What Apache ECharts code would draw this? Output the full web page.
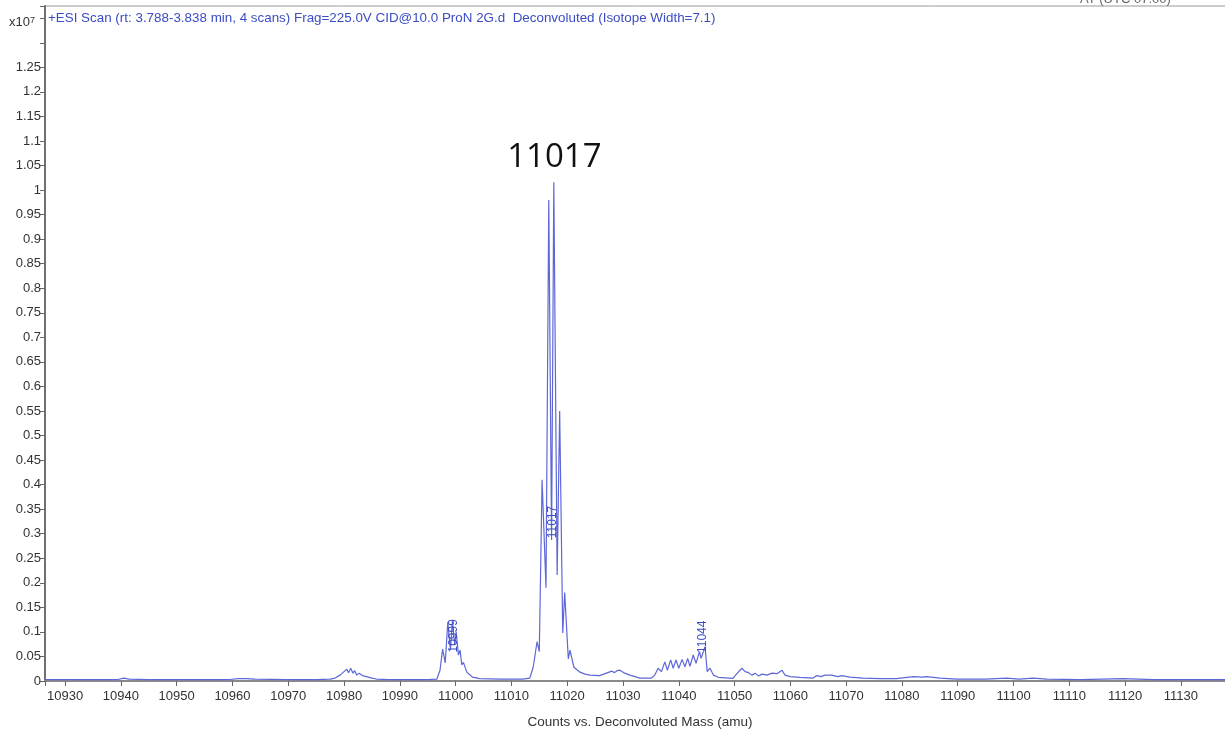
<!DOCTYPE html>
<html>
<head>
<meta charset="utf-8">
<script src="https://cdn.jsdelivr.net/npm/echarts@6/dist/echarts.min.js"></script>
<style>
html,body{margin:0;padding:0;background:#fff;overflow:hidden;}
#chart{width:1225px;height:734px;}
</style>
</head>
<body>
<div id="chart"></div>
<script>
// Deconvoluted mass (amu)
var masses = [
10926.4,10935,10939.5,10940.5,10941.5,10945,10950,10955,10959.5,10961,10962.5,10964,10970,10975,
10977.5,10978.4,10979.3,10980,10980.5,10980.8,10981.2,10981.6,10981.9,10982.3,10982.7,10983.3,10984.0,10985,10985.8,
10988,10992,10995,10996.65,10997.2,10997.67,10998.14,10998.6,10999.07,10999.43,10999.85,11000.1,11000.5,11000.8,
11001.1,11001.4,11002.0,11003.0,11004.3,11008,11012,11013.3,11013.9,11014.6,11015.0,11015.5,11016.2,11016.7,
11017.2,11017.6,11018.2,11018.65,11019.2,11019.55,11020.2,11020.5,11021.2,11022.3,11023.2,11024.1,11025.8,11026.8,
11028.0,11028.5,11028.9,11029.46,11030.3,11031.25,11033.05,11035.1,11035.7,11036.3,11036.9,11037.5,11037.95,11038.55,
11039.0,11039.5,11040.0,11040.6,11041.1,11041.6,11042.0,11042.6,11043.1,11043.7,11044.0,11044.7,11045.1,11045.6,
11046.2,11047.1,11049.7,11050.5,11051.3,11051.9,11052.5,11053.1,11053.7,11054.3,11054.9,11055.8,11056.7,11057.6,
11058.5,11059.05,11059.95,11061.7,11064.1,11064.7,11065.5,11066.2,11067.4,11068.5,11069.2,11070.7,11073,11076.1,
11079,11082.1,11083.5,11084.45,11086.8,11089.8,11095,11098.8,11101,11103.5,11106,11112,11119.7,11125,11132,11139.7
];
// Counts (x10^7)
var counts = [
0.003,0.003,0.003,0.006,0.004,0.003,0.003,0.003,0.003,0.005,0.005,0.004,0.003,0.003,
0.004,0.006,0.012,0.019,0.024,0.017,0.026,0.016,0.021,0.012,0.016,0.011,0.009,0.006,0.004,
0.003,0.003,0.003,0.004,0.022,0.065,0.037,0.12,0.063,0.122,0.073,0.10,0.053,0.063,
0.033,0.038,0.018,0.008,0.005,0.004,0.004,0.006,0.028,0.08,0.06,0.41,0.19,0.98,
0.287,1.016,0.216,0.55,0.098,0.18,0.045,0.063,0.028,0.018,0.014,0.012,0.011,0.015,
0.02,0.017,0.021,0.022,0.016,0.012,0.006,0.006,0.012,0.026,0.019,0.039,0.022,0.043,
0.026,0.043,0.026,0.044,0.029,0.046,0.03,0.053,0.036,0.06,0.046,0.07,0.019,0.026,
0.012,0.0075,0.0055,0.016,0.026,0.019,0.017,0.012,0.016,0.01,0.014,0.012,0.016,0.015,
0.022,0.012,0.009,0.0075,0.006,0.011,0.009,0.012,0.012,0.009,0.011,0.008,0.006,0.005,
0.005,0.009,0.008,0.009,0.006,0.004,0.004,0.006,0.004,0.006,0.004,0.003,0.005,0.003,0.003,0.003
];
// Peak labels (rotated) : mass, label anchor height
var peakLabelMass = [10999.6, 11017.4, 11044.3];
var peakLabelY = [0.092, 0.324, 0.09];
var peakLabelText = ['10999', '11017', '11044'];
// Big annotation
var bigLabel = {mass: 11017.7, y: 1.066, text: '11017'};

var titleText = '+ESI Scan (rt: 3.788-3.838 min, 4 scans) Frag=225.0V CID@10.0 ProN 2G.d  Deconvoluted (Isotope Width=7.1)';
var xName = 'Counts vs. Deconvoluted Mass (amu)';

var seriesData = masses.map(function (m, i) { return [m, counts[i]]; });

var markData = peakLabelMass.map(function (m, i) {
  return {
    coord: [m, peakLabelY[i]],
    symbol: 'rect', symbolSize: 0,
    label: {show: true, position: 'inside', rotate: 90, formatter: peakLabelText[i],
      color: '#3b4cc6', fontSize: 12, fontFamily: 'Liberation Sans'}
  };
});
markData.push({
  coord: [bigLabel.mass, bigLabel.y],
  symbol: 'rect', symbolSize: 0,
  label: {show: true, position: 'inside', formatter: bigLabel.text,
    color: '#111', fontSize: 33, fontFamily: 'Open Sans'}
});

var chart = echarts.init(document.getElementById('chart'), null, {renderer: 'canvas'});
chart.setOption({
  animation: false,
  backgroundColor: '#fff',
  title: [
    {text: titleText, left: 48, top: 12, padding: 0,
      textStyle: {color: '#3b4cc6', fontSize: 13.4, fontWeight: 'normal', fontFamily: 'Liberation Sans'}},
    {text: 'x10{s|7}', left: 9, top: 16, padding: 0,
      textStyle: {color: '#333', fontSize: 13, fontWeight: 'normal', fontFamily: 'Liberation Sans',
        rich: {s: {fontSize: 9, verticalAlign: 'top', lineHeight: 9, padding: [0, 0, 7, 0], color: '#333', fontFamily: 'Liberation Sans'}}}},
    {text: 'AT (UTC 07:00)', left: 1080, top: -7, padding: 0,
      textStyle: {color: '#666', fontSize: 13, fontWeight: 'normal', fontFamily: 'Liberation Sans'}}
  ],
  grid: {left: 45, top: 6, width: 1190, bottom: 53, show: true, borderColor: '#999', borderWidth: 1,
    backgroundColor: 'transparent', containLabel: false, outerBoundsMode: 'none'},
  xAxis: {
    type: 'value', min: 10926.4, max: 11139.7, minInterval: 10, maxInterval: 10,
    name: xName, nameLocation: 'middle', nameGap: 34,
    nameTextStyle: {color: '#333', fontSize: 13.5, fontFamily: 'Liberation Sans'},
    axisLine: {show: true, lineStyle: {color: '#8a8a8a', width: 2}},
    axisTick: {show: true, length: 5, inside: false, lineStyle: {color: '#666'}},
    axisLabel: {color: '#333', fontSize: 13, margin: 9, fontFamily: 'Liberation Sans',
      formatter: function (v) { return Math.abs(v - Math.round(v / 10) * 10) < 1e-6 ? String(Math.round(v)) : ''; }},
    splitLine: {show: false}
  },
  yAxis: {
    type: 'value', min: 0, max: 1.375, interval: 0.05,
    axisLine: {show: true, lineStyle: {color: '#707070', width: 2}},
    axisTick: {show: true, length: 5, lineStyle: {color: '#666'}},
    axisLabel: {color: '#333', fontSize: 13, margin: 4, fontFamily: 'Liberation Sans',
      formatter: function (v) { return v > 1.26 ? '' : String(+v.toFixed(2)); }},
    splitLine: {show: false}
  },
  series: [{
    type: 'line', data: seriesData, showSymbol: false, symbol: 'none',
    lineStyle: {color: '#5e67d8', width: 1.2},
    markPoint: {silent: true, data: markData}
  }]
});
</script>
</body>
</html>
